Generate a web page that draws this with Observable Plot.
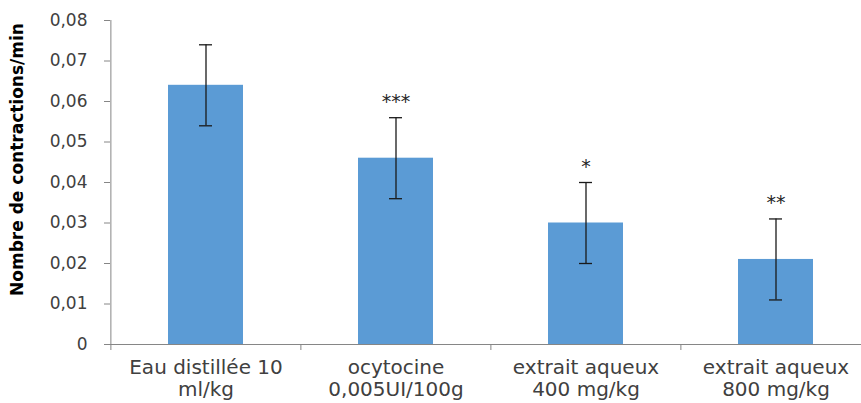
<!DOCTYPE html>
<html>
<head>
<meta charset="utf-8">
<script src="https://cdn.jsdelivr.net/npm/d3@7"></script>
<script src="https://cdn.jsdelivr.net/npm/@observablehq/plot@0.6"></script>
<style>
  html, body { margin: 0; padding: 0; background: #ffffff; }
  #chart svg { display: block; }
</style>
</head>
<body>
<div id="chart"></div>
<script>
// ---- data ----
const categories = [
  "Eau distillée 10\nml/kg",
  "ocytocine\n0,005UI/100g",
  "extrait aqueux\n400 mg/kg",
  "extrait aqueux\n800 mg/kg"
];
const means = [0.064, 0.046, 0.030, 0.021];
const errors = [0.010, 0.010, 0.010, 0.010];
const stars = ["", "***", "*", "**"];
const yTicks = [0, 0.01, 0.02, 0.03, 0.04, 0.05, 0.06, 0.07, 0.08];
const yTitle = "Nombre de contractions/min";

const table = categories.map((c, i) => ({
  cat: c, mean: means[i], err: errors[i], star: stars[i]
}));

const fmt = d => d === 0 ? "0" : d.toFixed(2).replace(".", ",");

// ---- layout ----
const W = 861, H = 403;
const xRange = [110, 871];
const step = (xRange[1] - xRange[0]) / categories.length;
const axisGray = "#868686";
const textColor = "#404040";

const chart = Plot.plot({
  width: W,
  height: H,
  marginLeft: 110,
  marginRight: 0,
  marginTop: 20,
  marginBottom: 59,
  style: { fontFamily: "'DejaVu Sans', sans-serif", background: "#ffffff", overflow: "visible" },
  x: { domain: categories, range: xRange, paddingInner: 0.604, paddingOuter: 0.302, axis: null },
  y: { domain: [0, 0.08], axis: null },
  marks: [
    // bars
    Plot.barY(table, { x: "cat", y: "mean", fill: "#5B9BD5" }),
    // error bars
    Plot.ruleX(table, { x: "cat", y1: d => d.mean - d.err, y2: d => d.mean + d.err, stroke: "#1a1a1a", strokeWidth: 1.3 }),
    Plot.tickY(table, { x: "cat", y: d => d.mean + d.err, stroke: "#1a1a1a", strokeWidth: 1.3, insetLeft: 31, insetRight: 31 }),
    Plot.tickY(table, { x: "cat", y: d => d.mean - d.err, stroke: "#1a1a1a", strokeWidth: 1.3, insetLeft: 31, insetRight: 31 }),
    // significance stars
    Plot.text(table.filter(d => d.star), { x: "cat", y: d => d.mean + d.err, text: "star", dy: -16, fontSize: 19, fill: "#262626" }),
    // axes lines
    Plot.ruleY([0], { stroke: axisGray }),
    Plot.ruleX([categories[0]], { x: d => d, dx: -step / 2, y1: 0, y2: 0.08, stroke: axisGray }),
    // y ticks
    Plot.axisY({ ticks: yTicks, text: null, tickSize: 6, stroke: axisGray, label: null }),
    Plot.axisY({ ticks: yTicks, tickSize: 0, tickPadding: 23, tickFormat: fmt, fontSize: 17, fill: textColor, label: null }),
    // x boundary ticks
    Plot.axisX({ ticks: categories, text: null, tickSize: 6, dx: -step / 2, stroke: axisGray, label: null }),
    // category labels
    Plot.text(categories, { x: d => d, text: d => d, frameAnchor: "bottom", lineAnchor: "top", dy: 14, lineHeight: 1.1, fontSize: 20, fill: textColor }),
    // y title
    Plot.text([yTitle], { text: d => d, frameAnchor: "left", textAnchor: "middle", rotate: -90, dx: -93, dy: -23, fontSize: 17, fontWeight: "bold", fill: "#000000" })
  ]
});

document.getElementById("chart").appendChild(chart);
</script>
</body>
</html>
